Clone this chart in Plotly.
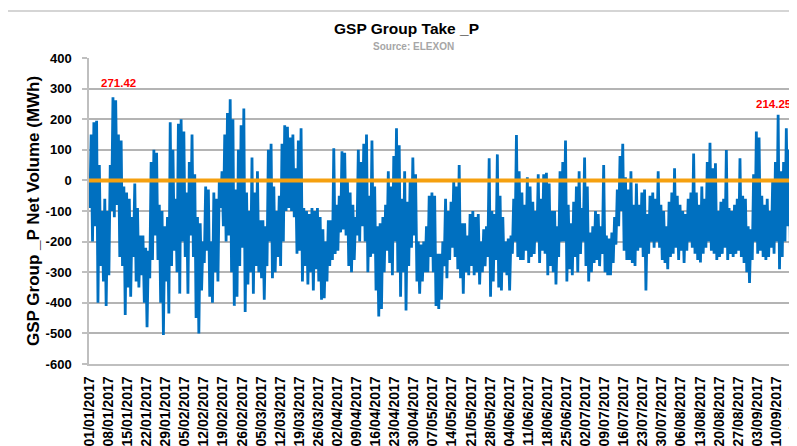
import pandas as pd
import plotly.graph_objects as go

# ---- data (daily high / low of the half-hourly series) ----
start_date = "2017-01-01"

daily_high = [
    150, 190, 195, 50, -100, -60, -100, 50, 271.42, 262,
    150, 130, -20, -40, -60, -120, -10, -90, -180, -180,
    -220, -230, 60, 100, 90, -80, -100, -150, -120, 190,
    100, -60, 185, 200, 160, -40, 60, 150, 20, -120,
    -140, -200, -20, -30, -200, -40, -60, 0, 30, 150,
    220, 265, 200, -30, 100, 180, 235, -40, -100, 75,
    -40, 30, -130, -130, -150, 100, 120, -20, -100, -50,
    120, 180, 175, 140, 150, 40, 130, 170, -90, -100,
    -110, -90, -100, -90, -120, -160, -200, -130, -130, 105,
    -80, -50, 95, 90, 0, -40, -80, -120, 100, 60,
    120, 150, -50, 130, -20, -150, -140, -120, -80, 30,
    -20, 80, 170, 115, -60, 30, -70, 0, 75, 20,
    -200, -210, -200, -150, -50, -40, -50, -240, -240, -200,
    -60, -100, -70, 0, -20, 50, -140, -140, -180, -110,
    -100, -120, -110, -200, -160, -150, 72, -100, -110, 85,
    -50, -120, -200, -190, -180, -60, 148, 30, -40, -80,
    10, -20, -70, -100, 20, -60, 20, 25, -10, -100,
    -100, -150, 30, 60, 130, -80, -140, -70, -20, 30,
    -90, 75, -20, -170, -150, -100, -110, -150, 50, -180,
    -190, -170, -120, -30, 80, 120, 10, -30, 30, -80,
    -10, -80, -40, -30, -110, -50, -40, -60, 30, -80,
    -100, -150, -70, -40, 40, -50, -80, -100, -110, -60,
    -40, 88, -40, -80, -20, -60, 60, 123, 40, 56,
    -100, -70, -60, 99, -90, -100, -80, -60, 72, -50,
    -60, -150, -160, 20, 160, 140, -50, -80, -60, -100,
    0, 60, 214.25, 30, 60, 170, 100, -20, -60, -180,
]

daily_low = [
    -90, -200, -150, -400, -280, -330, -410, -310, -100, -120,
    -80, -250, -280, -440, -350, -380, -250, -330, -350, -310,
    -400, -480, -320, -260, -180, -260, -400, -505, -330, -435,
    -280, -230, -300, -370, -200, -250, -370, -180, -250, -450,
    -500, -360, -270, -230, -380, -400, -300, -330, -90, -150,
    -200, -180, -300, -410, -380, -280, -220, -430, -340, -300,
    -370, -280, -300, -320, -390, -280, -200, -320, -300, -250,
    -280, -200, -100, -90, -100, -120, -240, -230, -330, -280,
    -340, -300, -360, -290, -330, -390, -385, -330, -280, -260,
    -240, -230, -170, -160, -180, -280, -300, -260, -180, -200,
    -150, -200, -300, -250, -240, -360, -445, -420, -300, -230,
    -270, -310, -200, -300, -380, -300, -425, -280, -220, -180,
    -330, -370, -330, -300, -300, -250, -300, -410, -420, -390,
    -280, -320, -260, -220, -250, -290, -320, -370, -300, -310,
    -280, -310, -300, -340, -300, -280, -250, -380, -330, -260,
    -350, -360, -300, -310, -360, -240, -200, -250, -260, -260,
    -230, -270, -250, -240, -200, -270, -230, -240, -310, -280,
    -300, -340, -250, -200, -200, -330, -290, -310, -250, -300,
    -240, -200, -280, -330, -300, -270, -260, -280, -240, -300,
    -310, -310, -270, -210, -150, -100, -230, -260, -260, -270,
    -280, -230, -220, -250, -360, -240, -200, -220, -200, -220,
    -260, -270, -290, -250, -240, -220, -260, -230, -270, -230,
    -200, -220, -240, -260, -268, -240, -220, -200, -230, -240,
    -260, -250, -240, -220, -260, -240, -250, -240, -230, -250,
    -270, -300, -335, -260, -200, -240, -230, -250, -260, -250,
    -220, -240, -200, -290, -250, -200, -150, -220, -240, -345,
]

zero_line = [0, 0]
zero_dates = ["2016-12-31 21:00", "2017-09-18 12:00"]

tick_dates = pd.date_range("2017-01-01", "2017-09-17", freq="7D")
tick_labels = [d.strftime("%d/%m/%Y") for d in tick_dates]

peak_labels = ["271.42", "214.25"]

# ---- build series ----
days = pd.date_range(start_date, periods=len(daily_high), freq="D")
xs, ys = [], []
for day, lo, hi in zip(days, daily_low, daily_high):
    xs.append(day + pd.Timedelta(hours=4))
    ys.append(lo)
    xs.append(day + pd.Timedelta(hours=16))
    ys.append(hi)

FONT = "Liberation Sans, Arial, sans-serif"

fig = go.Figure()
fig.add_trace(go.Scatter(x=xs, y=ys, mode="lines",
                         line=dict(color="#0070C0", width=2.8),
                         hoverinfo="skip", showlegend=False))
fig.add_trace(go.Scatter(x=zero_dates, y=zero_line, mode="lines",
                         line=dict(color="#F5A00F", width=4),
                         hoverinfo="skip", showlegend=False))

# peak annotations
half = len(ys) // 2
i_max1 = ys.index(max(ys[:half]))
i_max2 = half + ys[half:].index(max(ys[half:]))
for idx, txt, dx, dy in [(i_max1, peak_labels[0], 6, 14), (i_max2, peak_labels[1], -4, 11)]:
    fig.add_annotation(x=xs[idx], y=ys[idx], text="<b>" + txt + "</b>", showarrow=False,
                       xshift=dx, yshift=dy, xanchor="center", yanchor="middle",
                       font=dict(family=FONT, size=11.5, color="#FF0000"))

# page body has an 8px offset; layout numbers below are in figure pixels
OFF = 8
W, H = 797, 446
L, T = 89 - OFF, 58 - OFF
R = W - (797 - OFF)
B = H - (364 - OFF)
pw, ph = W - L - R, H - T - B

def px(win_x):
    return (win_x - OFF - L) / pw

def py(win_y):
    return (H - B - (win_y - OFF)) / ph

fig.add_annotation(xref="paper", yref="paper", x=px(406), y=py(29), text="<b>GSP Group Take _P</b>",
                   xanchor="center", yanchor="middle",
                   showarrow=False, font=dict(family=FONT, size=15.5, color="#000000"))
fig.add_annotation(xref="paper", yref="paper", x=px(413), y=py(46.5), text="<b>Source: ELEXON</b>",
                   xanchor="center", yanchor="middle",
                   showarrow=False, font=dict(family=FONT, size=10, color="#A6A6A6"))
fig.add_annotation(xref="paper", yref="paper", x=px(33), y=py(211),
                   text="<b>GSP Group _P Net Volume (MWh)</b>",
                   xanchor="center", yanchor="middle",
                   textangle=-90, showarrow=False,
                   font=dict(family=FONT, size=17, color="#000000"))

# chart-area border
fig.add_shape(type="rect", xref="paper", yref="paper",
              x0=px(7), x1=px(812), y0=py(470), y1=py(11),
              line=dict(color="#C8C8C8", width=1.5), fillcolor="rgba(0,0,0,0)", layer="below")

fig.update_layout(
    width=W, height=H,
    margin=dict(l=L, r=R, t=T, b=B, pad=0, autoexpand=False),
    paper_bgcolor="white", plot_bgcolor="white",
    font=dict(family=FONT, color="#000000"),
    showlegend=False,
)
fig.update_xaxes(
    type="date", automargin=False,
    range=["2016-12-31 21:00", "2017-09-17 14:00"],
    tickvals=list(tick_dates), ticktext=["<b>" + t + "</b>" for t in tick_labels],
    tickangle=-90,
    tickfont=dict(family=FONT, size=14, color="#000000"),
    showgrid=False, zeroline=False,
    showline=True, linecolor="#BFBFBF", linewidth=1.5,
    ticks="", ticklabelstandoff=5,
)
fig.update_yaxes(
    automargin=False,
    range=[-600, 400],
    tickvals=list(range(-600, 401, 100)),
    ticktext=["<b>%d</b>" % v for v in range(-600, 401, 100)],
    tickfont=dict(family=FONT, size=13, color="#000000"),
    showgrid=True, gridcolor="#B4B4B4", gridwidth=1.5,
    zeroline=False,
    showline=True, linecolor="#BFBFBF", linewidth=1.5,
    ticks="outside", ticklen=5, tickcolor="#BFBFBF", tickwidth=1.5,
    ticklabelstandoff=8,
)

fig.write_html("out.html")
